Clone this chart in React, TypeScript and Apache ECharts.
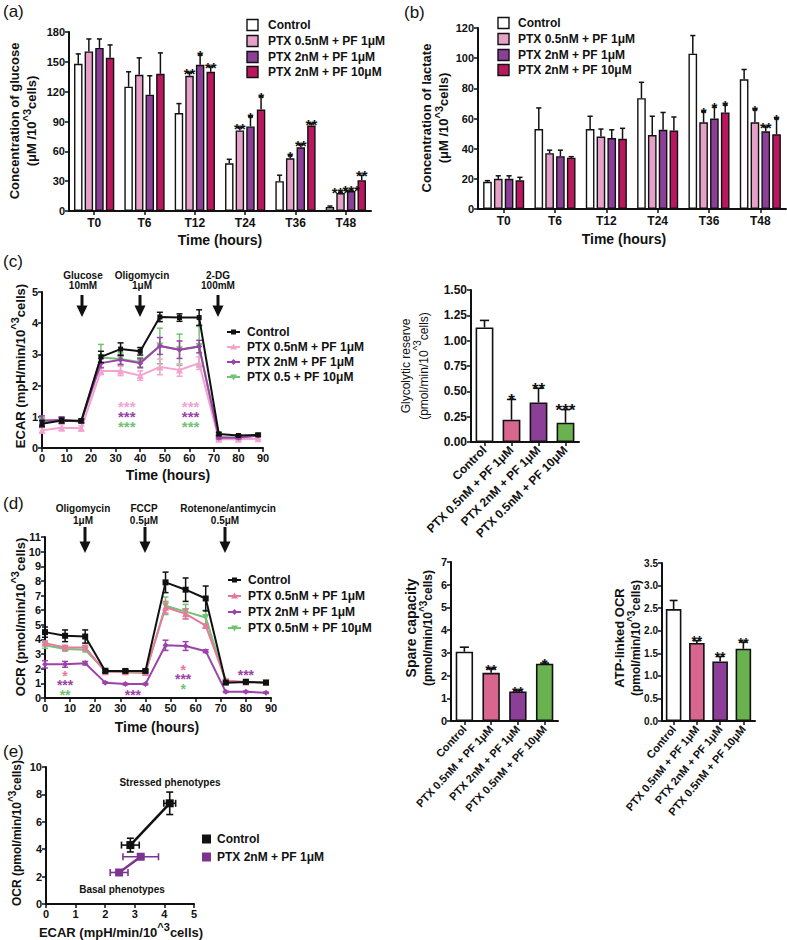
import React, { useEffect, useRef } from 'react';
import * as echarts from 'echarts';

const FF = "'Liberation Sans', Arial, Helvetica, sans-serif";
const FN = "'Liberation Sans Narrow', 'Liberation Sans', Arial, sans-serif";
const INK = '#111111';

// ---------- colours ----------
const C_WHITE = '#ffffff';
const C_PINK_A = '#e6a1c9';
const C_PURPLE = '#8c3f97';
const C_MAGENTA = '#b9185f';
const C_PINK_LINE = '#f2a3ce';
const C_PURPLE_LINE = '#9b43a9';
const C_GREEN_LINE = '#72c472';
const C_PINK_OCR = '#e8799c';
const C_PINK_BAR = '#d9668f';
const C_GREEN_BAR = '#6ab24f';
const C_PURPLE_E = '#7b3590';

// ---------- (a) glucose / (b) lactate ----------
const timeCats = ['T0', 'T6', 'T12', 'T24', 'T36', 'T48'];
const treatNames = ['Control', 'PTX 0.5nM + PF 1μM', 'PTX 2nM + PF 1μM', 'PTX 2nM + PF 10μM'];

const glucoseControl = [148, 125, 98.5, 48, 30, 4];
const glucosePink = [160.5, 137, 136, 81, 53, 18];
const glucosePurple = [164, 117, 147, 85, 64, 20];
const glucoseMagenta = [154, 138, 140, 102, 86, 31];
const glucoseErrControl = [10, 15, 9.5, 4, 6, 1];
const glucoseErrPink = [12.5, 17, 3, 3, 3, 1];
const glucoseErrPurple = [9, 19, 10, 10, 3, 1];
const glucoseErrMagenta = [13, 21, 5, 13, 2, 5];
const glucoseStarsControl = ['', '', '', '', '', ''];
const glucoseStarsPink = ['', '', '**', '**', '*', '***'];
const glucoseStarsPurple = ['', '', '*', '*', '**', '***'];
const glucoseStarsMagenta = ['', '', '**', '*', '**', '**'];

const lactateControl = [18, 53, 53, 73.5, 103, 86];
const lactatePink = [20, 37, 48, 49, 57.5, 57.5];
const lactatePurple = [20, 35, 47, 52.5, 60, 51.5];
const lactateMagenta = [19, 34, 46.5, 52, 64, 49.5];
const lactateErrControl = [0.8, 14, 8.5, 10.5, 12, 6.5];
const lactateErrPink = [2, 2, 5, 12.5, 7, 8.5];
const lactateErrPurple = [2, 4, 5.5, 11.5, 7.5, 3];
const lactateErrMagenta = [2, 0.7, 7, 9, 5, 10.5];
const lactateStarsControl = ['', '', '', '', '', ''];
const lactateStarsPink = ['', '', '', '', '*', '*'];
const lactateStarsPurple = ['', '', '', '', '*', '**'];
const lactateStarsMagenta = ['', '', '', '', '*', '*'];

// ---------- (c) ECAR ----------
const seaTimes = [0, 8, 16, 24, 32, 40, 48, 56, 64, 72, 80, 88];
const ecarNames = ['Control', 'PTX 0.5nM + PF 1μM', 'PTX 2nM + PF 1μM', 'PTX 0.5 + PF 10μM'];
const ecarControl = [0.78, 0.88, 0.87, 2.92, 3.17, 3.1, 4.2, 4.18, 4.18, 0.45, 0.4, 0.42];
const ecarControlErr = [0.1, 0.08, 0.06, 0.18, 0.2, 0.12, 0.15, 0.12, 0.25, 0.05, 0.03, 0.04];
const ecarPink = [0.57, 0.65, 0.63, 2.47, 2.47, 2.32, 2.6, 2.5, 2.72, 0.28, 0.28, 0.3];
const ecarPinkErr = [0.08, 0.1, 0.08, 0.12, 0.15, 0.15, 0.25, 0.2, 0.2, 0.04, 0.04, 0.03];
const ecarPurple = [0.88, 0.9, 0.85, 2.72, 2.83, 2.72, 3.27, 3.15, 3.25, 0.33, 0.33, 0.4];
const ecarPurpleErr = [0.15, 0.1, 0.05, 0.15, 0.15, 0.15, 0.27, 0.28, 0.2, 0.04, 0.04, 0.03];
const ecarGreen = [0.85, 0.88, 0.85, 2.9, 2.85, 2.75, 3.27, 3.15, 3.25, 0.35, 0.33, 0.4];
const ecarGreenErr = [0.12, 0.1, 0.05, 0.42, 0.2, 0.15, 0.57, 0.5, 0.65, 0.04, 0.04, 0.03];
// stacked significance marks: x, centre y, one entry per line
const ecarStarGroups = [
  { x: 34.5, y: 1.12, t: ['***', '***', '***'], c: [C_PINK_LINE, C_PURPLE_LINE, C_GREEN_LINE] },
  { x: 60.5, y: 1.12, t: ['***', '***', '***'], c: [C_PINK_LINE, C_PURPLE_LINE, C_GREEN_LINE] },
];

// ---------- bar categories (c right, d) ----------
const barCats = ['Control', 'PTX 0.5nM + PF 1μM', 'PTX 2nM + PF 1μM', 'PTX 0.5nM + PF 10μM'];
const glycoReserve = [1.13, 0.22, 0.39, 0.19];
const glycoReserveErr = [0.07, 0.2, 0.14, 0.13];
const glycoStars = ['', '*', '**', '***'];
const spareCapacity = [3.05, 2.12, 1.3, 2.52];
const spareCapacityErr = [0.2, 0.18, 0.05, 0.03];
const spareStars = ['', '**', '**', '*'];
const atpLinked = [2.48, 1.73, 1.32, 1.6];
const atpLinkedErr = [0.19, 0.05, 0.11, 0.15];
const atpStars = ['', '**', '**', '**'];

// ---------- (d) OCR ----------
const ocrNames = ['Control', 'PTX 0.5nM + PF 1μM', 'PTX 2nM + PF 1μM', 'PTX 0.5nM + PF 10μM'];
const ocrControl = [4.5, 4.25, 4.2, 1.85, 1.85, 1.85, 7.9, 7.4, 6.8, 1.05, 1.1, 1.05];
const ocrControlErr = [0.35, 0.4, 0.45, 0.1, 0.1, 0.1, 0.7, 0.8, 0.85, 0.08, 0.08, 0.08];
const ocrPink = [3.75, 3.45, 3.45, 1.8, 1.8, 1.75, 6.2, 5.75, 4.95, 1.2, 1.1, 1.1];
const ocrPinkErr = [0.15, 0.15, 0.15, 0.1, 0.1, 0.1, 0.4, 0.35, 0.1, 0.08, 0.08, 0.08];
const ocrPurple = [2.3, 2.3, 2.38, 1.05, 0.95, 0.95, 3.6, 3.55, 3.2, 0.42, 0.42, 0.36];
const ocrPurpleErr = [0.25, 0.2, 0.12, 0.05, 0.05, 0.05, 0.35, 0.3, 0.1, 0.04, 0.04, 0.04];
const ocrGreen = [3.6, 3.35, 3.3, 1.85, 1.75, 1.7, 6.3, 5.9, 5.5, 1.1, 1.1, 1.05];
const ocrGreenErr = [0.2, 0.15, 0.15, 0.1, 0.1, 0.1, 0.6, 0.5, 0.5, 0.08, 0.08, 0.1];
const ocrStarGroups = [
  { x: 8, y: 1.1, t: ['*', '***', '**'], c: [C_PINK_OCR, C_PURPLE_LINE, C_GREEN_LINE] },
  { x: 35, y: 0.43, t: ['***'], c: [C_PURPLE_LINE] },
  { x: 55, y: 1.5, t: ['*', '***', '*'], c: [C_PINK_OCR, C_PURPLE_LINE, C_GREEN_LINE] },
  { x: 80, y: 1.77, t: ['***'], c: [C_PURPLE_LINE] },
];

// ---------- (e) phenotypes ----------
const phenoNames = ['Control', 'PTX 2nM + PF 1μM'];
const phenoControlEcar = [2.85, 4.18];
const phenoControlOcr = [4.3, 7.35];
const phenoControlEcarErr = [0.3, 0.2];
const phenoControlOcrErr = [0.5, 0.82];
const phenoPurpleEcar = [2.47, 3.2];
const phenoPurpleOcr = [2.3, 3.45];
const phenoPurpleEcarErr = [0.3, 0.6];
const phenoPurpleOcrErr = [0.12, 0.08];

// ================= helpers =================
function valAxis(gi: number, min: number, max: number, interval: number, fs = 11, fmt?: any) {
  const a: any = {
    type: 'value', gridIndex: gi, min, max, interval,
    axisLine: { show: true, lineStyle: { color: INK, width: 2 } },
    axisTick: { show: true, length: 4, lineStyle: { color: INK, width: 1.5 } },
    axisLabel: { color: INK, fontWeight: 'bold', fontSize: fs, fontFamily: FN, margin: 4 },
    splitLine: { show: false },
  };
  if (fmt) a.axisLabel.formatter = fmt;
  return a;
}
function catAxis(gi: number, data: string[], fs: number, rotate = 0, margin = 6, font = FN) {
  return {
    type: 'category', gridIndex: gi, data, boundaryGap: true,
    axisLine: { show: true, lineStyle: { color: INK, width: 2 } },
    axisTick: { show: true, alignWithLabel: true, length: 4, lineStyle: { color: INK, width: 1.5 } },
    axisLabel: { color: INK, fontWeight: 'bold', fontSize: fs, fontFamily: font, rotate, margin, interval: 0 },
    splitLine: { show: false },
  };
}

function starText(x: number, yTop: number, st: string, fs: number) {
  // asterisk glyph sits high in the em box: put its bottom just above yTop
  return { type: 'text', x, y: yTop + fs * 0.55, style: { text: st, font: `bold ${fs}px ${FF}`, fill: INK, align: 'center', verticalAlign: 'bottom' } };
}

function groupedBars(gi: number, means: number[][], errs: number[][], stars: string[][], names: string[], colors: string[], starFs: number) {
  const n = means.length;
  const out: any[] = [];
  means.forEach((m, s) => {
    out.push({
      type: 'bar', name: names[s], xAxisIndex: gi, yAxisIndex: gi, data: m,
      barGap: '25%', barCategoryGap: '20%', silent: true, z: 2,
      itemStyle: { color: colors[s], borderColor: INK, borderWidth: 1.4 },
    });
  });
  means.forEach((m, s) => {
    out.push({
      type: 'custom', xAxisIndex: gi, yAxisIndex: gi, z: 3, silent: true,
      data: m.map((v, i) => [i, v, v + errs[s][i]]),
      renderItem: (params: any, api: any) => {
        const i = api.value(0);
        const B = api.size([1, 0])[0];
        const used = B * 0.8;
        const w = used / (n + (n - 1) * 0.25);
        const c0 = api.coord([i, 0])[0];
        const cx = c0 - used / 2 + s * w * 1.25 + w / 2;
        const yTop = api.coord([i, api.value(2)])[1];
        const yBar = api.coord([i, api.value(1)])[1];
        const hc = w * 0.3;
        const children: any[] = [
          { type: 'line', shape: { x1: cx, y1: yBar, x2: cx, y2: yTop }, style: { stroke: INK, lineWidth: 1.5 } },
          { type: 'line', shape: { x1: cx - hc, y1: yTop, x2: cx + hc, y2: yTop }, style: { stroke: INK, lineWidth: 1.5 } },
        ];
        const st = stars[s][params.dataIndex];
        if (st) children.push(starText(cx, yTop, st, starFs));
        return { type: 'group', children };
      },
    });
  });
  return out;
}

function singleBars(gi: number, vals: number[], errs: number[], stars: string[], colors: string[], bw: string, starFs: number) {
  return [
    {
      type: 'bar', xAxisIndex: gi, yAxisIndex: gi, barWidth: bw, silent: true, z: 2,
      data: vals.map((v, i) => ({ value: v, itemStyle: { color: colors[i], borderColor: INK, borderWidth: 1.6 } })),
    },
    {
      type: 'custom', xAxisIndex: gi, yAxisIndex: gi, z: 3, silent: true,
      data: vals.map((v, i) => [i, v, v + errs[i]]),
      renderItem: (params: any, api: any) => {
        const i = api.value(0);
        const B = api.size([1, 0])[0];
        const p0 = api.coord([i, api.value(1)]);
        const p1 = api.coord([i, api.value(2)]);
        const hc = B * 0.17;
        const children: any[] = [
          { type: 'line', shape: { x1: p0[0], y1: p0[1], x2: p1[0], y2: p1[1] }, style: { stroke: INK, lineWidth: 1.6 } },
          { type: 'line', shape: { x1: p1[0] - hc, y1: p1[1], x2: p1[0] + hc, y2: p1[1] }, style: { stroke: INK, lineWidth: 1.6 } },
        ];
        const st = stars[params.dataIndex];
        if (st) children.push(starText(p1[0], p1[1], st, starFs));
        return { type: 'group', children };
      },
    },
  ];
}

function lineWithErr(gi: number, name: string, xs: number[], ys: number[], es: number[], color: string, symbol: string, size: number, z: number, rot = 0) {
  return [
    {
      type: 'line', name, xAxisIndex: gi, yAxisIndex: gi, silent: true, z,
      data: xs.map((x, i) => [x, ys[i]]),
      symbol, symbolSize: size, symbolRotate: rot, showSymbol: true,
      lineStyle: { color, width: 2 }, itemStyle: { color },
    },
    {
      type: 'custom', xAxisIndex: gi, yAxisIndex: gi, silent: true, z,
      data: xs.map((x, i) => [x, ys[i], es[i]]),
      renderItem: (params: any, api: any) => {
        const x = api.value(0), y = api.value(1), e = api.value(2);
        const a = api.coord([x, y + e]);
        const b = api.coord([x, y - e]);
        const hc = 3;
        const st = { stroke: color, lineWidth: 1.5 };
        return {
          type: 'group', children: [
            { type: 'line', shape: { x1: a[0], y1: a[1], x2: b[0], y2: b[1] }, style: st },
            { type: 'line', shape: { x1: a[0] - hc, y1: a[1], x2: a[0] + hc, y2: a[1] }, style: st },
            { type: 'line', shape: { x1: b[0] - hc, y1: b[1], x2: b[0] + hc, y2: b[1] }, style: st },
          ],
        };
      },
    },
  ];
}

function starGroupSeries(gi: number, groups: { x: number; y: number; t: string[]; c: string[] }[], fs: number, lh: number) {
  return {
    type: 'custom', xAxisIndex: gi, yAxisIndex: gi, z: 20, silent: true,
    data: groups.map((g) => [g.x, g.y]),
    renderItem: (params: any, api: any) => {
      const g = groups[params.dataIndex];
      const p = api.coord([api.value(0), api.value(1)]);
      const rich: any = {};
      g.c.forEach((c, k) => { rich['k' + k] = { fill: c, fontSize: fs, fontWeight: 'bold', fontFamily: FF, lineHeight: lh }; });
      const text = g.t.map((t, k) => `{k${k}|${t}}`).join('\n');
      return { type: 'text', x: p[0], y: p[1] + fs * 0.23, style: { text, rich, align: 'center', verticalAlign: 'middle' } };
    },
  };
}

function phenoSeries(name: string, xs: number[], ys: number[], exs: number[], eys: number[], color: string) {
  return [
    {
      type: 'line', name, xAxisIndex: 7, yAxisIndex: 7, silent: true, z: 3,
      data: xs.map((x, i) => [x, ys[i]]), symbol: 'rect', symbolSize: 8,
      lineStyle: { color, width: 2.5 }, itemStyle: { color },
    },
    {
      type: 'custom', xAxisIndex: 7, yAxisIndex: 7, silent: true, z: 2,
      data: xs.map((x, i) => [x, ys[i], exs[i], eys[i]]),
      renderItem: (params: any, api: any) => {
        const x = api.value(0), y = api.value(1), ex = api.value(2), ey = api.value(3);
        const l = api.coord([x - ex, y]), r = api.coord([x + ex, y]);
        const t = api.coord([x, y + ey]), b = api.coord([x, y - ey]);
        const st = { stroke: color, lineWidth: 1.6 };
        const hc = 3.5;
        return {
          type: 'group', children: [
            { type: 'line', shape: { x1: l[0], y1: l[1], x2: r[0], y2: r[1] }, style: st },
            { type: 'line', shape: { x1: l[0], y1: l[1] - hc, x2: l[0], y2: l[1] + hc }, style: st },
            { type: 'line', shape: { x1: r[0], y1: r[1] - hc, x2: r[0], y2: r[1] + hc }, style: st },
            { type: 'line', shape: { x1: t[0], y1: t[1], x2: b[0], y2: b[1] }, style: st },
            { type: 'line', shape: { x1: t[0] - hc, y1: t[1], x2: t[0] + hc, y2: t[1] }, style: st },
            { type: 'line', shape: { x1: b[0] - hc, y1: b[1], x2: b[0] + hc, y2: b[1] }, style: st },
          ],
        };
      },
    },
  ];
}

// ---------- graphic helpers ----------
function txt(x: number, y: number, text: string, font: string, align = 'center', fill = INK) {
  return { type: 'text', x, y, silent: true, style: { text, font, fill, align, verticalAlign: 'middle' } };
}
// rich styles: n = main, m = secondary line, s = superscript
function richStyles(fs: number, weight: string, font: string, lh: number, fs2: number, weight2: string, font2: string) {
  return {
    n: { fontSize: fs, fontWeight: weight, fontFamily: font, fill: INK, verticalAlign: 'bottom', lineHeight: lh },
    m: { fontSize: fs2, fontWeight: weight2, fontFamily: font2, fill: INK, verticalAlign: 'bottom', lineHeight: lh },
    s: { fontSize: fs2 - 2, fontWeight: weight2, fontFamily: font2, fill: INK, verticalAlign: 'top', lineHeight: fs2 - 2 },
  };
}
function richTitle(cx: number, cy: number, text: string, rich: any) {
  return {
    type: 'text', x: cx, y: cy, rotation: Math.PI / 2, silent: true,
    style: { text, align: 'center', verticalAlign: 'middle', rich },
  };
}
function richLine(cx: number, cy: number, text: string, rich: any) {
  return { type: 'text', x: cx, y: cy, silent: true, style: { text, align: 'center', verticalAlign: 'middle', rich } };
}
function barLegend(x: number, ys: number[], names: string[], colors: string[], tx: number) {
  const els: any[] = [];
  ys.forEach((y, i) => {
    els.push({ type: 'rect', silent: true, shape: { x, y: y - 5.5, width: 11, height: 11 }, style: { fill: colors[i], stroke: INK, lineWidth: 1.4 } });
    els.push(txt(x + tx, y, names[i], `bold 12px ${FF}`, 'left'));
  });
  return els;
}
function marker(kind: string, cx: number, cy: number, color: string) {
  if (kind === 'rect') return { type: 'rect', silent: true, shape: { x: cx - 2.5, y: cy - 2.5, width: 5, height: 5 }, style: { fill: color } };
  if (kind === 'up') return { type: 'polygon', silent: true, shape: { points: [[cx - 3.5, cy + 2.5], [cx + 3.5, cy + 2.5], [cx, cy - 3.5]] }, style: { fill: color } };
  if (kind === 'down') return { type: 'polygon', silent: true, shape: { points: [[cx - 3.5, cy - 2.5], [cx + 3.5, cy - 2.5], [cx, cy + 3.5]] }, style: { fill: color } };
  return { type: 'polygon', silent: true, shape: { points: [[cx, cy - 3], [cx + 3, cy], [cx, cy + 3], [cx - 3, cy]] }, style: { fill: color } };
}
function lineLegend(x: number, ys: number[], names: string[], colors: string[], kinds: string[]) {
  const els: any[] = [];
  ys.forEach((y, i) => {
    els.push({ type: 'line', silent: true, shape: { x1: x, y1: y, x2: x + 13, y2: y }, style: { stroke: colors[i], lineWidth: 2 } });
    els.push(marker(kinds[i], x + 6.5, y, colors[i]));
    els.push(txt(x + 20, y, names[i], `bold 12px ${FF}`, 'left'));
  });
  return els;
}
function arrow(x: number, textX: number, lines: string[], y0: number, lh: number, yTop: number, yTip: number) {
  const els: any[] = lines.map((t, k) => txt(textX, y0 + k * lh, t, `bold 10px ${FF}`));
  els.push({ type: 'rect', silent: true, shape: { x: x - 1.5, y: yTop, width: 3, height: yTip - yTop - 10 }, style: { fill: INK } });
  els.push({ type: 'polygon', silent: true, shape: { points: [[x - 5.5, yTip - 11.5], [x + 5.5, yTip - 11.5], [x, yTip]] }, style: { fill: INK } });
  return els;
}

function buildOption() {
  const grid = [
    { left: 69, top: 32, width: 302, height: 179 },
    { left: 478, top: 28, width: 308, height: 181 },
    { left: 42, top: 292, width: 221, height: 156 },
    { left: 471, top: 290, width: 108, height: 152 },
    { left: 45, top: 537, width: 226, height: 161 },
    { left: 451, top: 562, width: 107, height: 159 },
    { left: 662, top: 563, width: 93, height: 158 },
    { left: 46, top: 767, width: 148, height: 137 },
  ];
  const xAxis = [
    catAxis(0, timeCats, 12),
    catAxis(1, timeCats, 12),
    valAxis(2, 0, 90, 10, 11),
    catAxis(3, barCats, 12, 45, 6, FF),
    valAxis(4, 0, 90, 10, 11),
    catAxis(5, barCats, 11, 47, 6, FN),
    catAxis(6, barCats, 11, 50, 6, FN),
    valAxis(7, 0, 5, 1, 11),
  ];
  const yAxis = [
    valAxis(0, 0, 180, 30, 11),
    valAxis(1, 0, 120, 20, 11),
    valAxis(2, 0, 5, 1, 11),
    valAxis(3, 0, 1.5, 0.25, 12, (v: number) => v.toFixed(2)),
    valAxis(4, 0, 11, 1, 11),
    valAxis(5, 0, 7, 1, 11),
    valAxis(6, 0, 3.5, 0.5, 10, (v: number) => v.toFixed(1)),
    valAxis(7, 0, 10, 2, 11),
  ];

  const abColors = [C_WHITE, C_PINK_A, C_PURPLE, C_MAGENTA];
  const barColors = [C_WHITE, C_PINK_BAR, C_PURPLE, C_GREEN_BAR];

  const series: any[] = [
    ...groupedBars(0,
      [glucoseControl, glucosePink, glucosePurple, glucoseMagenta],
      [glucoseErrControl, glucoseErrPink, glucoseErrPurple, glucoseErrMagenta],
      [glucoseStarsControl, glucoseStarsPink, glucoseStarsPurple, glucoseStarsMagenta],
      treatNames, abColors, 15),
    ...groupedBars(1,
      [lactateControl, lactatePink, lactatePurple, lactateMagenta],
      [lactateErrControl, lactateErrPink, lactateErrPurple, lactateErrMagenta],
      [lactateStarsControl, lactateStarsPink, lactateStarsPurple, lactateStarsMagenta],
      treatNames, abColors, 15),
    ...lineWithErr(2, ecarNames[3], seaTimes, ecarGreen, ecarGreenErr, C_GREEN_LINE, 'triangle', 7, 3, 180),
    ...lineWithErr(2, ecarNames[1], seaTimes, ecarPink, ecarPinkErr, C_PINK_LINE, 'triangle', 7, 4),
    ...lineWithErr(2, ecarNames[2], seaTimes, ecarPurple, ecarPurpleErr, C_PURPLE_LINE, 'diamond', 6, 5),
    ...lineWithErr(2, ecarNames[0], seaTimes, ecarControl, ecarControlErr, INK, 'rect', 5, 6),
    starGroupSeries(2, ecarStarGroups, 15, 10),
    ...singleBars(3, glycoReserve, glycoReserveErr, glycoStars, barColors, '66%', 17),
    ...lineWithErr(4, ocrNames[3], seaTimes, ocrGreen, ocrGreenErr, C_GREEN_LINE, 'triangle', 7, 3, 180),
    ...lineWithErr(4, ocrNames[1], seaTimes, ocrPink, ocrPinkErr, C_PINK_OCR, 'triangle', 7, 4),
    ...lineWithErr(4, ocrNames[2], seaTimes, ocrPurple, ocrPurpleErr, C_PURPLE_LINE, 'diamond', 6, 5),
    ...lineWithErr(4, ocrNames[0], seaTimes, ocrControl, ocrControlErr, INK, 'rect', 6, 6),
    starGroupSeries(4, ocrStarGroups, 14, 9.5),
    ...singleBars(5, spareCapacity, spareCapacityErr, spareStars, barColors, '65%', 15),
    ...singleBars(6, atpLinked, atpLinkedErr, atpStars, barColors, '67%', 14),
    ...phenoSeries(phenoNames[0], phenoControlEcar, phenoControlOcr, phenoControlEcarErr, phenoControlOcrErr, INK),
    ...phenoSeries(phenoNames[1], phenoPurpleEcar, phenoPurpleOcr, phenoPurpleEcarErr, phenoPurpleOcrErr, C_PURPLE_E),
  ];

  const sup = (st: string, pre: string, post: string) => `{${st}|${pre}}{s|^3}{${st}|${post}}`;
  const rBig = richStyles(13, 'bold', FF, 17, 13, 'bold', FF);
  const rE = richStyles(12, 'bold', FF, 16, 12, 'bold', FF);
  const rGly = richStyles(12, 'normal', FF, 18, 12, 'normal', FF);
  const rSpare = richStyles(14, 'bold', FF, 16, 12, 'bold', FN);
  const rAtp = richStyles(13, 'bold', FF, 16, 12, 'bold', FN);

  const elements: any[] = [
    // panel letters
    txt(3, 11, '(a)', `17px ${FN}`, 'left'),
    txt(404, 12, '(b)', `17px ${FN}`, 'left'),
    txt(3, 261, '(c)', `17px ${FN}`, 'left'),
    txt(3, 503, '(d)', `17px ${FN}`, 'left'),
    txt(3, 751, '(e)', `17px ${FN}`, 'left'),
    // x titles
    txt(220, 240, 'Time (hours)', `bold 14px ${FN}`),
    txt(624, 239, 'Time (hours)', `bold 14px ${FN}`),
    txt(168, 475, 'Time (hours)', `bold 14px ${FN}`),
    txt(157, 727, 'Time (hours)', `bold 14px ${FN}`),
    richLine(121, 930, sup('n', 'ECAR (mpH/min/10', 'cells)'), rBig),
    // y titles
    richTitle(21, 121, `{n|Concentration of glucose}\n${sup('n', '(μM /10', 'cells)')}`, rBig),
    richTitle(433, 118, `{n|Concentration of lactate}\n${sup('n', '(μM /10', 'cells)')}`, rBig),
    richTitle(18, 366, sup('n', 'ECAR (mpH/min/10', 'cells)'), rBig),
    richTitle(412, 366, `{n|Glycolytic reserve}\n${sup('m', '(pmol/min/10', 'cells)')}`, rGly),
    richTitle(18, 617, sup('n', 'OCR (pmol/min/10', 'cells)'), rBig),
    richTitle(418, 628, `{n|Spare capacity}\n${sup('m', '(pmol/min/10', 'cells)')}`, rSpare),
    richTitle(626, 638, `{n|ATP-linked OCR}\n${sup('m', '(pmol/min/10', 'cells)')}`, rAtp),
    richTitle(15, 833, sup('n', 'OCR (pmol/min/10', 'cells)'), rE),
    // legends
    ...barLegend(247, [25, 41, 57, 72], treatNames, abColors, 21),
    ...barLegend(498, [23, 39, 55, 70], treatNames, abColors, 20),
    ...lineLegend(227, [332, 347, 362, 377], ecarNames, [INK, C_PINK_LINE, C_PURPLE_LINE, C_GREEN_LINE], ['rect', 'up', 'diamond', 'down']),
    ...lineLegend(228, [580, 596, 612, 628], ocrNames, [INK, C_PINK_OCR, C_PURPLE_LINE, C_GREEN_LINE], ['rect', 'up', 'diamond', 'down']),
    { type: 'rect', silent: true, shape: { x: 202, y: 834.5, width: 9, height: 9 }, style: { fill: INK } },
    txt(217, 839, phenoNames[0], `bold 12px ${FF}`, 'left'),
    { type: 'rect', silent: true, shape: { x: 202, y: 852.5, width: 9, height: 9 }, style: { fill: C_PURPLE_E } },
    txt(217, 857, phenoNames[1], `bold 12px ${FF}`, 'left'),
    // phenotype annotations
    txt(170, 782, 'Stressed phenotypes', `bold 10px ${FF}`),
    txt(122, 889, 'Basal phenotypes', `bold 10px ${FF}`),
    // arrows (c)
    ...arrow(82, 83, ['Glucose', '10mM'], 275.5, 9.5, 295, 317),
    ...arrow(140, 142, ['Oligomycin', '1μM'], 275.5, 9.5, 295, 317),
    ...arrow(218, 218, ['2-DG', '100mM'], 275.5, 9.5, 295, 317),
    // arrows (d)
    ...arrow(85, 83, ['Oligomycin', '1μM'], 508, 12, 527, 553),
    ...arrow(145, 144, ['FCCP', '0.5μM'], 508, 12, 527, 553),
    ...arrow(225, 228, ['Rotenone/antimycin'], 508, 12, 527, 553),
    txt(225, 520, '0.5μM', `bold 10px ${FF}`),
  ];

  return {
    animation: false,
    backgroundColor: '#ffffff',
    textStyle: { fontFamily: FF },
    grid, xAxis, yAxis, series,
    graphic: { elements },
  };
}

export default function App() {
  const ref = useRef<HTMLDivElement>(null);
  useEffect(() => {
    if (!ref.current) return;
    const chart = echarts.init(ref.current, null, { renderer: 'svg' });
    chart.setOption(buildOption() as any);
    return () => chart.dispose();
  }, []);
  return <div ref={ref} style={{ position: 'absolute', left: 0, top: 0, width: 787, height: 940, background: '#fff' }} />;
}
